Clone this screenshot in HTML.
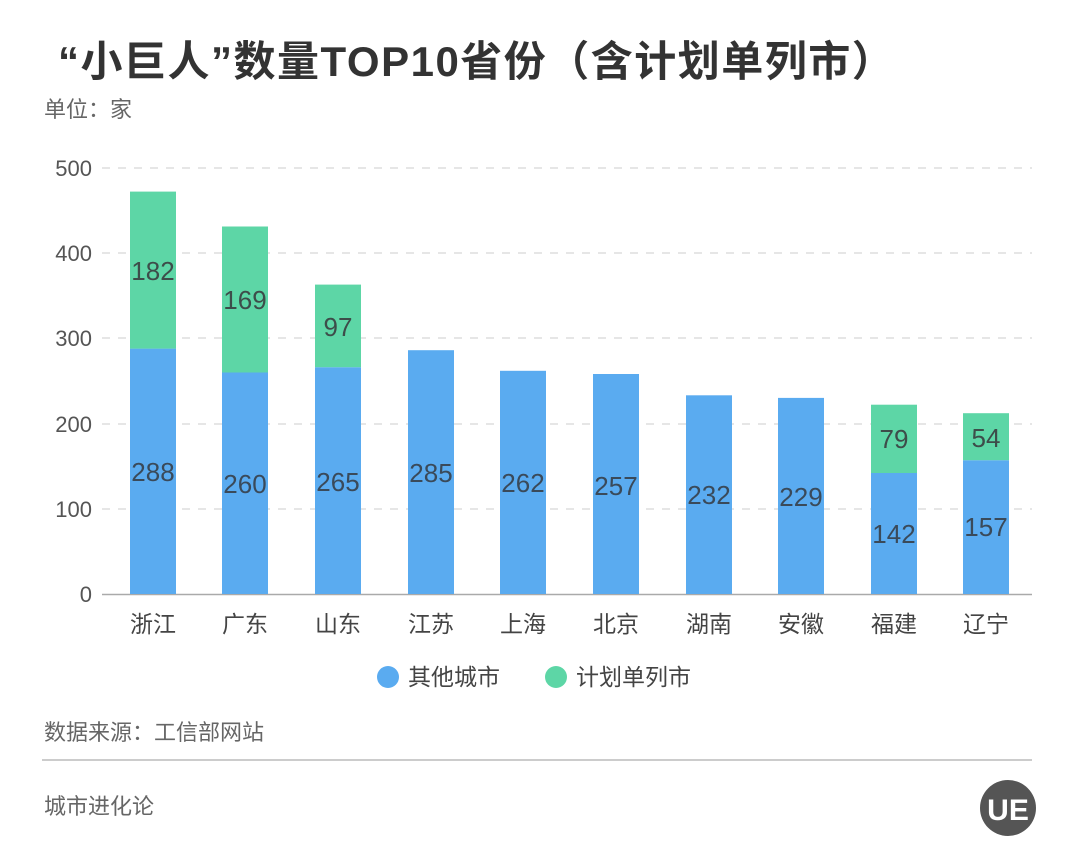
<!DOCTYPE html>
<html><head><meta charset="utf-8"><style>
body{margin:0;background:#fff;}
svg{display:block;font-family:"Liberation Sans","Noto Sans CJK SC",sans-serif;}
</style></head><body>
<svg width="1080" height="864" viewBox="0 0 1080 864" xmlns="http://www.w3.org/2000/svg">
<rect width="1080" height="864" fill="#fff"/>
<text x="58" y="76" font-size="42" font-weight="bold" fill="#333" letter-spacing="1.5">“小巨人”数量TOP10省份（含计划单列市）</text>
<text x="44" y="117" font-size="22" fill="#666">单位：家</text>
<g stroke="#ddd" stroke-width="1.5" stroke-dasharray="8,8">
<line x1="102" x2="1032" y1="168" y2="168"/><line x1="102" x2="1032" y1="253" y2="253"/>
<line x1="102" x2="1032" y1="338" y2="338"/><line x1="102" x2="1032" y1="424" y2="424"/>
<line x1="102" x2="1032" y1="509" y2="509"/></g>
<line x1="102" x2="1032" y1="594.5" y2="594.5" stroke="#aaa" stroke-width="1.5"/>
<g font-size="22" fill="#555" text-anchor="end">
<text x="92" y="176">500</text><text x="92" y="261">400</text><text x="92" y="346">300</text>
<text x="92" y="432">200</text><text x="92" y="517">100</text><text x="92" y="602">0</text></g>
<g id="bars" font-size="26" fill="#444" text-anchor="middle">
<rect x="130" y="348.6" width="46" height="245.4" fill="#5aabf0"/><rect x="130" y="191.6" width="46" height="157" fill="#5dd6a6"/>
<text x="153" y="280" fill="#3d4d4a">182</text><text x="153" y="481" fill="#3a4a5a">288</text>
<rect x="222" y="372.5" width="46" height="221.5" fill="#5aabf0"/><rect x="222" y="226.5" width="46" height="146" fill="#5dd6a6"/>
<text x="245" y="309" fill="#3d4d4a">169</text><text x="245" y="493" fill="#3a4a5a">260</text>
<rect x="315" y="367.2" width="46" height="226.8" fill="#5aabf0"/><rect x="315" y="284.6" width="46" height="82.6" fill="#5dd6a6"/>
<text x="338" y="336" fill="#3d4d4a">97</text><text x="338" y="491" fill="#3a4a5a">265</text>
<rect x="408" y="350.2" width="46" height="243.8" fill="#5aabf0"/><text x="431" y="482" fill="#3a4a5a">285</text>
<rect x="500" y="370.8" width="46" height="223.2" fill="#5aabf0"/><text x="523" y="492" fill="#3a4a5a">262</text>
<rect x="593" y="374" width="46" height="220" fill="#5aabf0"/><text x="616" y="495" fill="#3a4a5a">257</text>
<rect x="686" y="395.3" width="46" height="198.7" fill="#5aabf0"/><text x="709" y="504" fill="#3a4a5a">232</text>
<rect x="778" y="397.9" width="46" height="196.1" fill="#5aabf0"/><text x="801" y="506" fill="#3a4a5a">229</text>
<rect x="871" y="473" width="46" height="121" fill="#5aabf0"/><rect x="871" y="404.7" width="46" height="68.3" fill="#5dd6a6"/>
<text x="894" y="448" fill="#3d4d4a">79</text><text x="894" y="543" fill="#3a4a5a">142</text>
<rect x="963" y="460.2" width="46" height="133.8" fill="#5aabf0"/><rect x="963" y="413.2" width="46" height="47" fill="#5dd6a6"/>
<text x="986" y="447" fill="#3d4d4a">54</text><text x="986" y="536" fill="#3a4a5a">157</text>
</g>
<g font-size="23" fill="#444" text-anchor="middle">
<text x="153" y="632">浙江</text><text x="245" y="632">广东</text><text x="338" y="632">山东</text>
<text x="431" y="632">江苏</text><text x="523" y="632">上海</text><text x="616" y="632">北京</text>
<text x="709" y="632">湖南</text><text x="801" y="632">安徽</text><text x="894" y="632">福建</text><text x="986" y="632">辽宁</text></g>
<circle cx="388" cy="677" r="11" fill="#5aabf0"/><text x="408" y="685" font-size="23" fill="#444">其他城市</text>
<circle cx="556" cy="677" r="11" fill="#5dd6a6"/><text x="576" y="685" font-size="23" fill="#444">计划单列市</text>
<text x="44" y="740" font-size="22" fill="#666">数据来源：工信部网站</text>
<line x1="42" x2="1032" y1="760" y2="760" stroke="#ccc" stroke-width="2"/>
<text x="44" y="814" font-size="22" fill="#666">城市进化论</text>
<circle cx="1008" cy="808" r="28" fill="#555"/>
<text x="1008" y="820" font-size="30" font-weight="bold" fill="#fff" text-anchor="middle">UE</text>
</svg>
</body></html>
